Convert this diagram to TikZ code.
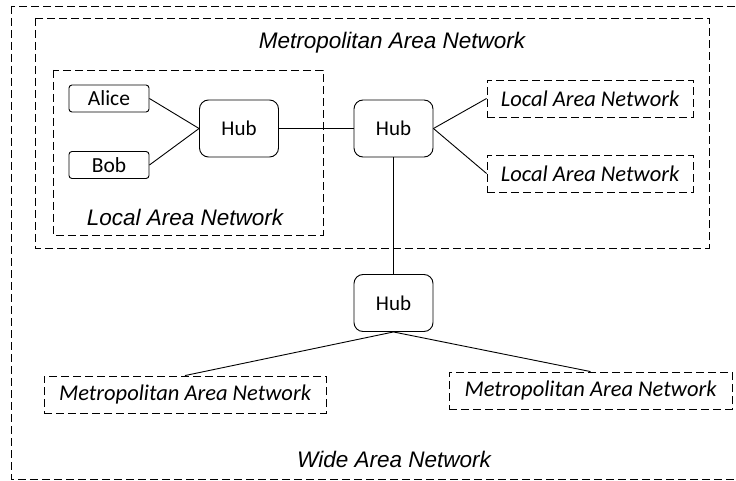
\documentclass[tikz,border=0pt]{standalone}
\usepackage{fontspec}
\setmainfont{Carlito}
\newfontfamily\arialfont{Liberation Sans}
\begin{document}
\begin{tikzpicture}[x=1pt,y=-1pt,
  line width=0.9pt,
  dsh/.style={dash pattern=on 8pt off 4pt},
  hubbox/.style={draw,rounded corners=9pt,minimum width=79pt,minimum height=57pt,inner sep=0pt,font=\fontsize{21}{24}\selectfont},
  person/.style={draw,rounded corners=3pt,minimum width=80pt,minimum height=27pt,inner sep=0pt,font=\fontsize{21.5}{24}\selectfont},
  netbox/.style={draw,dsh,inner sep=0pt,font=\fontsize{22.5}{26}\selectfont\itshape},
  biglabel/.style={font=\arialfont\fontsize{22.5}{26}\selectfont\itshape,inner sep=0pt},
  conn/.style={draw,line width=0.9pt}]
\useasboundingbox (0,0) rectangle (736,481);
\path[fill=white] (0,0) rectangle (736,481);
% outer WAN box
\draw[dsh] (11,6) rectangle (740,479);
% MAN box
\draw[dsh] (35,18) rectangle (709,248);
% inner LAN box
\draw[dsh] (53,70) rectangle (323,235);
% labels
\node[biglabel] (manlabel) at (392,43) {Metropolitan Area Network};
\node[biglabel] (lanlabel) at (185,217) {Local Area Network};
\node[biglabel] (wanlabel) at (394,459) {Wide Area Network};
% nodes
\node[person] (alice) at (109,98.5) {Alice};
\node[person] (bob) at (109,165) {Bob};
\node[hubbox] (hub1) at (239,128.5) {Hub};
\node[hubbox] (hub2) at (393.5,128.5) {Hub};
\node[hubbox] (hub3) at (393.5,303) {Hub};
\node[netbox,minimum width=206pt,minimum height=37pt] (lan1) at (590,98.5) {Local Area Network};
\node[netbox,minimum width=206pt,minimum height=37pt] (lan2) at (590,173.5) {Local Area Network};
\node[netbox,minimum width=282pt,minimum height=37pt] (man1) at (185,394.5) {Metropolitan Area Network};
\node[netbox,minimum width=283pt,minimum height=37pt] (man2) at (590.5,390.5) {Metropolitan Area Network};
% connectors
\draw (alice.east) -- (hub1.west);
\draw (bob.east) -- (hub1.west);
\draw (hub1.east) -- (hub2.west);
\draw (hub2.east) -- (lan1.west);
\draw (hub2.east) -- (lan2.west);
\draw (hub2.south) -- (hub3.north);
\draw (hub3.south) -- (man1.north);
\draw (hub3.south) -- (man2.north);
\end{tikzpicture}
\end{document}
